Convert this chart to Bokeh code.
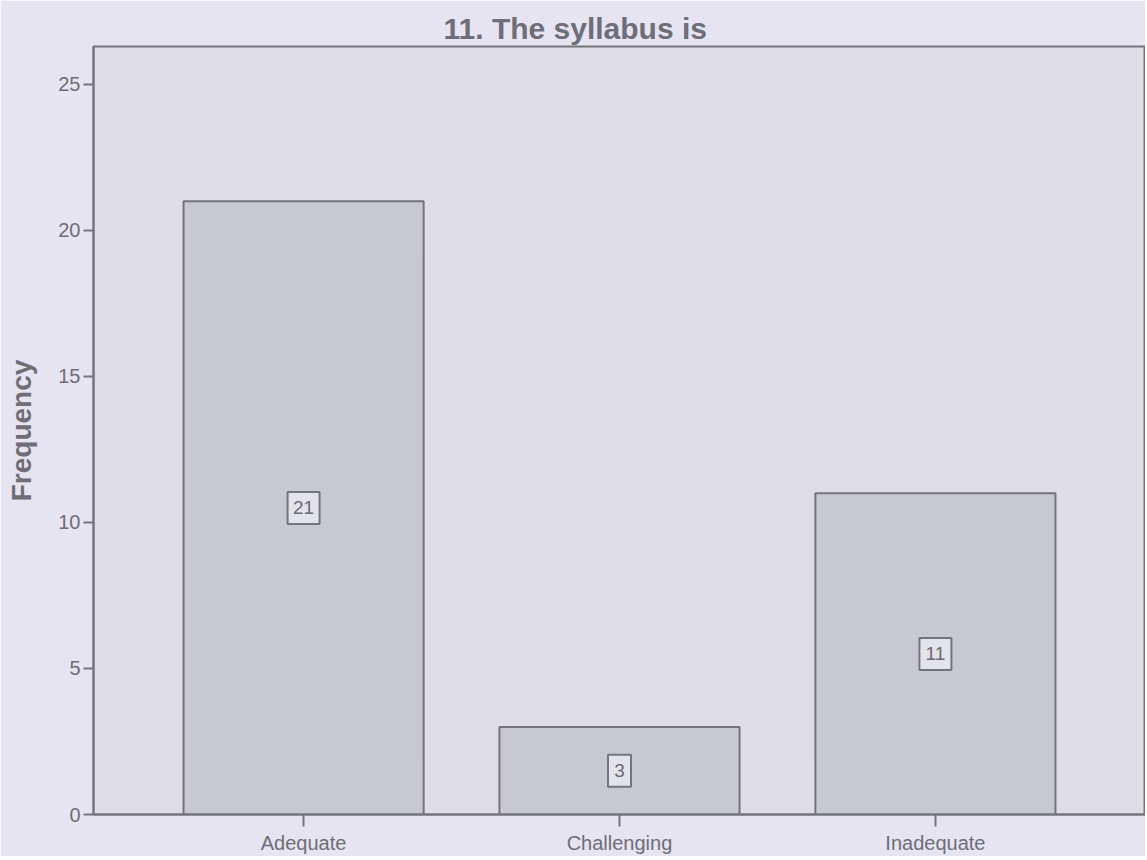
from bokeh.plotting import figure
from bokeh.models import FactorRange, Range1d, ColumnDataSource, FixedTicker
from bokeh.core.properties import value
from bokeh.embed import file_html
from bokeh.resources import INLINE

categories = ["Adequate", "Challenging", "Inadequate"]
counts = [21, 3, 11]
y_ticks = [0, 5, 10, 15, 20, 25]
title_text = "11. The syllabus is"
y_label = "Frequency"

labels = [str(c) for c in counts]
src = ColumnDataSource(dict(
    cat=categories,
    count=counts,
    mid=[c / 2 for c in counts],
    label=labels,
    boxw=[14 + 9 * len(s) for s in labels],
))

GRAY = "#74747e"
TXT = "#6e6e78"
p = figure(
    x_range=FactorRange(*categories, range_padding=0.165, range_padding_units="absolute"),
    y_range=Range1d(0, 26.3),
    width=1145, height=856,
    output_backend="svg", toolbar_location=None,
    min_border_left=93, min_border_right=0, min_border_top=46, min_border_bottom=39,
)
p.background_fill_color = "#dedde5"
p.border_fill_color = "#e6e4f0"
p.outline_line_color = GRAY
p.outline_line_width = 2

p.title.text = title_text
p.title.align = "left"
p.title.offset = 350
p.title.text_font = "Liberation Sans"
p.title.text_font_size = "30px"
p.title.text_font_style = "bold"
p.title.text_color = TXT
p.title.standoff = 4

p.vbar(x="cat", top="count", width=0.76, source=src,
       fill_color="#c8c8d1", line_color=GRAY, line_width=2)

p.rect(x="cat", y="mid", width="boxw", height=32, source=src,
       width_units="screen", height_units="screen",
       fill_color="#e3e3ea", line_color=GRAY, line_width=2)
p.text(x="cat", y="mid", text="label", source=src,
       text_align="center", text_baseline="middle",
       text_font=value("Liberation Sans"), text_font_size="19px",
       text_color="#6a6a74")

p.xgrid.grid_line_color = None
p.ygrid.grid_line_color = None

p.yaxis.ticker = FixedTicker(ticks=y_ticks)
p.yaxis.axis_label = y_label
p.yaxis.axis_label_text_font = "Liberation Sans"
p.yaxis.axis_label_text_font_size = "28px"
p.yaxis.axis_label_text_font_style = "bold"
p.yaxis.axis_label_text_color = TXT
p.yaxis.axis_label_standoff = 18

for ax in (p.xaxis, p.yaxis):
    ax.axis_line_color = GRAY
    ax.axis_line_width = 2
    ax.major_tick_line_color = GRAY
    ax.major_tick_line_width = 2
    ax.major_tick_in = 0
    ax.minor_tick_line_color = None
    ax.major_label_text_font = "Liberation Sans"
    ax.major_label_text_font_size = "20px"
    ax.major_label_text_color = TXT

p.yaxis.major_tick_out = 10
p.yaxis.major_label_standoff = 3
p.xaxis.major_tick_out = 12
p.xaxis.major_label_standoff = 5

open("out.html", "w").write(file_html(p, INLINE))
